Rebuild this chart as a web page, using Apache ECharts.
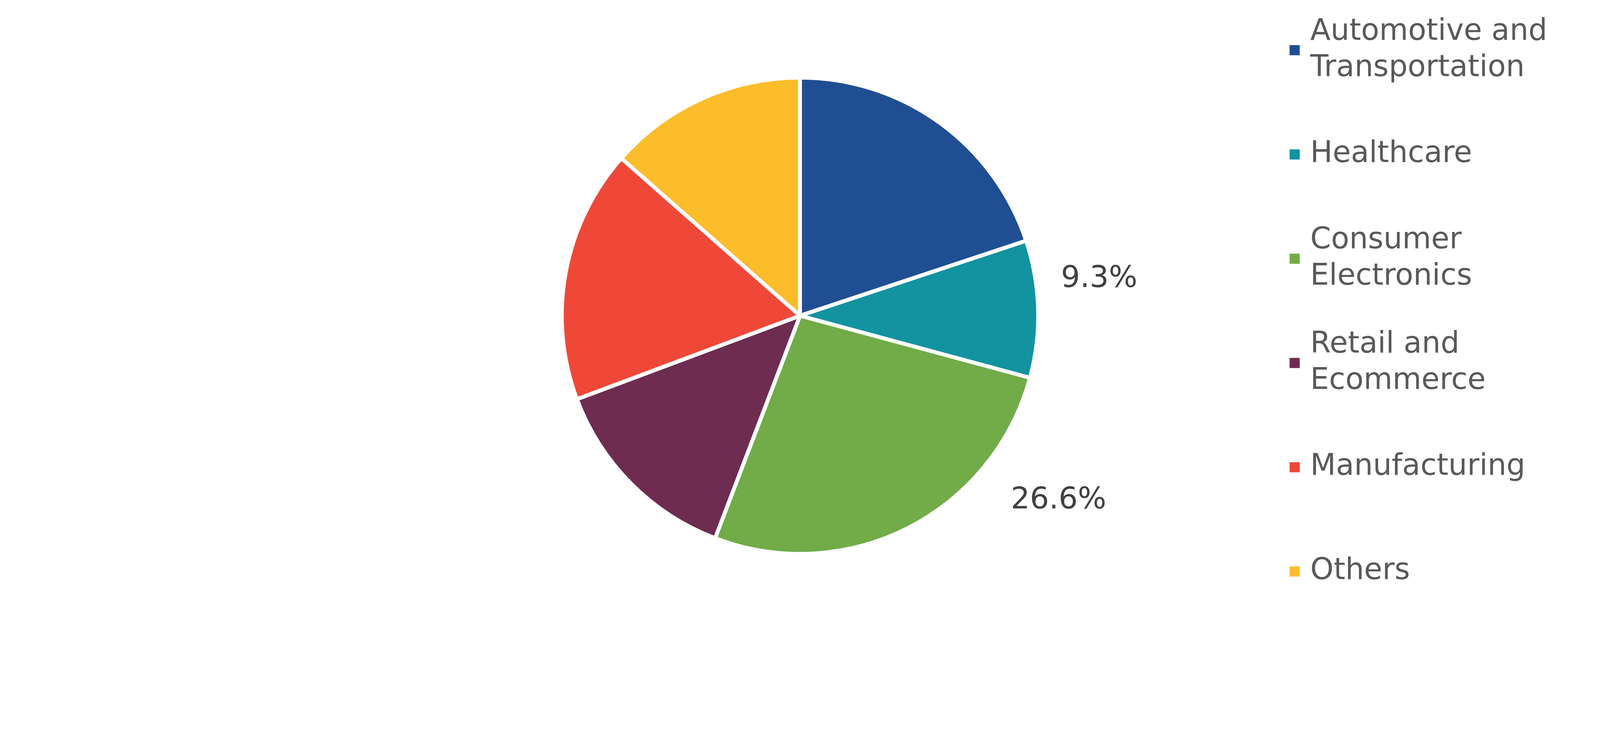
<!DOCTYPE html>
<html>
<head>
<meta charset="utf-8">
<script src="https://cdn.jsdelivr.net/npm/echarts@6/dist/echarts.min.js"></script>
<style>
html,body{margin:0;padding:0;background:#fff;overflow:hidden;}
#chart{width:100vw;height:100vh;}
</style>
</head>
<body>
<div id="chart"></div>
<script>
const categories = ['Automotive and Transportation', 'Healthcare', 'Consumer Electronics', 'Retail and Ecommerce', 'Manufacturing', 'Others'];
const legendLabels = ['Automotive and\nTransportation', 'Healthcare', 'Consumer\nElectronics', 'Retail and\nEcommerce', 'Manufacturing', 'Others'];
const shares = [19.9, 9.3, 26.6, 13.5, 17.2, 13.5];
const shownLabels = [false, true, true, false, false, false];
const colors = ['#1F4E93', '#1393A0', '#71AC48', '#6E2C50', '#F04838', '#FCBD2A'];

// label anchor (left edge, vertical middle) as fractions of chart width / height
const labelAnchor = [null, [0.6631, 0.3693], [0.6317, 0.6622], null, null, null];

const LINE = 93;
const chart = echarts.init(document.getElementById('chart'));
const data = categories.map((c, i) => ({
  name: c,
  value: shares[i],
  itemStyle: { color: colors[i] },
  label: { show: shownLabels[i] }
}));
const legendData = categories.map((c, i) => {
  const twoLine = legendLabels[i].indexOf('\n') >= 0;
  return {
    name: c,
    textStyle: { padding: twoLine ? [LINE, 0, 0, 21] : [LINE, 0, LINE, 21] }
  };
});
chart.setOption({
  animation: false,
  backgroundColor: '#ffffff',
  legend: {
    orient: 'vertical',
    left: '80.55%',
    top: -11,
    padding: 0,
    itemGap: -12,
    itemWidth: 28,
    itemHeight: 28,
    icon: 'rect',
    selectedMode: false,
    data: legendData,
    formatter: name => legendLabels[categories.indexOf(name)],
    textStyle: {
      fontFamily: 'DejaVu Sans',
      fontSize: 76,
      lineHeight: LINE,
      color: '#595959'
    }
  },
  series: [{
    type: 'pie',
    center: ['50%', '41.76%'],
    radius: '63%',
    startAngle: 90,
    clockwise: true,
    avoidLabelOverlap: false,
    itemStyle: { borderColor: '#ffffff', borderWidth: 10 },
    label: {
      show: false,
      position: 'outside',
      fontFamily: 'DejaVu Sans',
      fontSize: 77,
      color: '#404040',
      formatter: p => p.value.toFixed(1) + '%'
    },
    labelLine: { show: false, length: 30, length2: 0 },
    labelLayout: params => {
      const a = labelAnchor[params.dataIndex];
      if (!a) return {};
      return {
        x: chart.getWidth() * a[0],
        y: chart.getHeight() * a[1],
        align: 'left',
        verticalAlign: 'middle'
      };
    },
    emphasis: { disabled: true },
    data: data
  }]
});
window.addEventListener('resize', () => chart.resize());
</script>
</body>
</html>
